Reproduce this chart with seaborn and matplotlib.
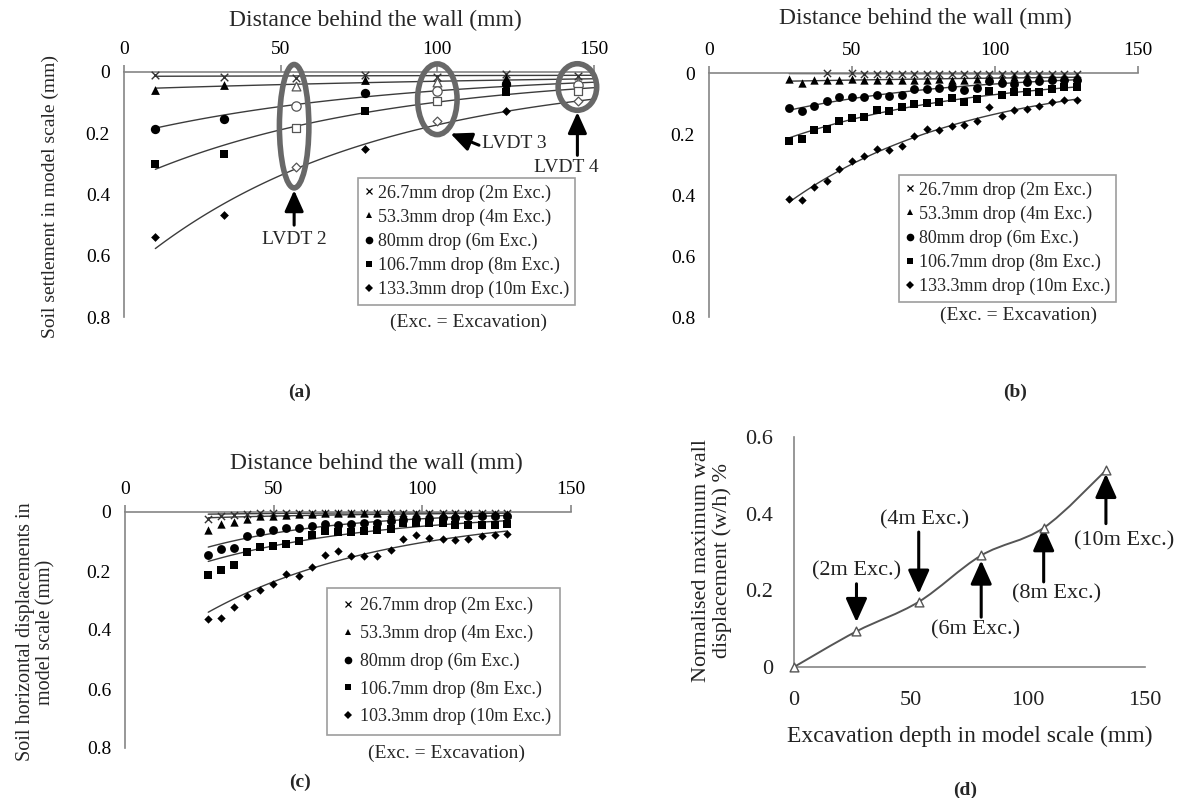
import numpy as np
import matplotlib
matplotlib.use("Agg")
import matplotlib.pyplot as plt
import seaborn as sns
from matplotlib.patches import Ellipse, PathPatch
from matplotlib.path import Path
from matplotlib.lines import Line2D

# ---------------- data ----------------
series_labels = ["26.7mm drop (2m Exc.)", "53.3mm drop (4m Exc.)", "80mm drop (6m Exc.)",
                 "106.7mm drop (8m Exc.)", "133.3mm drop (10m Exc.)"]
series_labels_c = ["26.7mm drop (2m Exc.)", "53.3mm drop (4m Exc.)", "80mm drop (6m Exc.)",
                   "106.7mm drop (8m Exc.)", "103.3mm drop (10m Exc.)"]
x_ticks = [0, 50, 100, 150]
x_tick_labels = ["0", "50", "100", "150"]
y_ticks = [0, 0.2, 0.4, 0.6, 0.8]
y_tick_labels = ["0", "0.2", "0.4", "0.6", "0.8"]

# (a) settlement, solid points and LVDT (hollow) points
a_x = [10, 32, 55, 77, 100, 122, 145]
a_lvdt = [False, False, True, False, True, False, True]
a_2m = [0.010, 0.016, 0.020, 0.010, 0.016, 0.006, 0.014]
a_4m = [0.060, 0.044, 0.047, 0.025, 0.033, 0.018, 0.033]
a_6m = [0.185, 0.153, 0.110, 0.070, 0.062, 0.038, 0.044]
a_8m = [0.300, 0.268, 0.182, 0.126, 0.095, 0.065, 0.062]
a_10m = [0.540, 0.468, 0.310, 0.250, 0.160, 0.128, 0.096]

# (b) settlement (PIV)
b_x = [28, 32.4, 36.8, 41.1, 45.5, 49.9, 54.3, 58.6, 63, 67.4, 71.8, 76.1,
       80.5, 84.9, 89.3, 93.6, 98, 102.4, 106.8, 111.1, 115.5, 119.9, 124.3, 128.6]
b_x_2m = [41.1, 49.9, 54.3, 58.6, 63, 67.4, 71.8, 76.1, 80.5, 84.9, 89.3, 93.6,
          98, 102.4, 106.8, 111.1, 115.5, 119.9, 124.3, 128.6]
b_2m = [0.001, 0.001, 0.003, 0.003, 0.003, 0.003, 0.002, 0.003, 0.002, 0.003, 0.003, 0.003,
        0.002, 0.003, 0.003, 0.003, 0.003, 0.003, 0.002, 0.002]
b_4m = [0.019, 0.033, 0.022, 0.024, 0.022, 0.019, 0.022, 0.024, 0.024, 0.022, 0.024, 0.024,
        0.020, 0.022, 0.022, 0.020, 0.016, 0.016, 0.014, 0.014, 0.014, 0.014, 0.013, 0.013]
b_6m = [0.115, 0.126, 0.107, 0.093, 0.079, 0.079, 0.079, 0.071, 0.076, 0.071, 0.051, 0.053,
        0.050, 0.047, 0.057, 0.049, 0.027, 0.033, 0.036, 0.031, 0.027, 0.022, 0.022, 0.024]
b_8m = [0.224, 0.216, 0.188, 0.182, 0.156, 0.148, 0.145, 0.120, 0.126, 0.112, 0.101, 0.098,
        0.095, 0.083, 0.096, 0.085, 0.060, 0.072, 0.062, 0.063, 0.063, 0.052, 0.046, 0.047]
b_10m = [0.414, 0.417, 0.373, 0.354, 0.314, 0.289, 0.273, 0.249, 0.251, 0.238, 0.207, 0.183,
         0.188, 0.174, 0.171, 0.157, 0.111, 0.141, 0.122, 0.117, 0.109, 0.096, 0.089, 0.087]

# (c) horizontal displacement
c_x = b_x
c_2m = [0.023, 0.012, 0.011, 0.007, 0.005, 0.004, 0.003, 0.003, 0.002, 0.002, 0.002, 0.002,
        0.002, 0.002, 0.002, 0.002, 0.002, 0.002, 0.002, 0.002, 0.002, 0.002, 0.002, 0.002]
c_4m = [0.060, 0.040, 0.034, 0.023, 0.015, 0.015, 0.009, 0.007, 0.007, 0.004, 0.004, 0.004,
        0.004, 0.004, 0.007, 0.007, 0.007, 0.007, 0.007, 0.007, 0.007, 0.007, 0.007, 0.007]
c_6m = [0.145, 0.125, 0.122, 0.080, 0.069, 0.062, 0.054, 0.054, 0.049, 0.041, 0.043, 0.040,
        0.037, 0.037, 0.032, 0.026, 0.024, 0.023, 0.019, 0.019, 0.015, 0.015, 0.013, 0.012]
c_8m = [0.215, 0.195, 0.179, 0.137, 0.120, 0.116, 0.107, 0.099, 0.077, 0.066, 0.068, 0.068,
        0.066, 0.060, 0.056, 0.037, 0.037, 0.037, 0.037, 0.045, 0.043, 0.043, 0.043, 0.040]
c_10m = [0.363, 0.359, 0.322, 0.286, 0.263, 0.243, 0.209, 0.216, 0.186, 0.145, 0.133, 0.148,
         0.148, 0.148, 0.128, 0.092, 0.077, 0.088, 0.092, 0.096, 0.092, 0.082, 0.077, 0.073]

# (d) normalised maximum wall displacement
d_x = [0, 26.7, 53.3, 80, 106.7, 133.3]
d_y = [0, 0.093, 0.170, 0.291, 0.363, 0.513]
d_labels = ["(2m Exc.)", "(4m Exc.)", "(6m Exc.)", "(8m Exc.)", "(10m Exc.)"]

# ---------------- style ----------------
sns.set_theme(style="white")
plt.rcParams["font.family"] = ["Liberation Serif", "DejaVu Serif"]
GREY = "#858585"
LINE = "#3c3c3c"
markers = ["x", "^", "o", "s", "D"]
msizes = [30, 40, 45, 38, 20]

fig = plt.figure(figsize=(12, 7.98), dpi=100)
W, H = 1200, 798


def add_ax(x0, x1, ytop, ybot):
    return fig.add_axes([x0 / W, 1 - ybot / H, (x1 - x0) / W, (ybot - ytop) / H])


axA = add_ax(124, 594, 72, 317)
axB = add_ax(709, 1138, 73, 317)
axC = add_ax(125, 571, 512, 748)
axD = add_ax(794, 1145, 437, 667)


def style_profile(ax):
    ax.set_xlim(0, 150)
    ax.set_ylim(0.8, 0)
    ax.xaxis.tick_top()
    ax.set_xticks(x_ticks)
    ax.set_xticklabels(x_tick_labels)
    ax.set_yticks(y_ticks)
    ax.set_yticklabels(y_tick_labels)
    for s in ["right", "bottom"]:
        ax.spines[s].set_visible(False)
    for s in ["top", "left"]:
        ax.spines[s].set_color(GREY)
        ax.spines[s].set_linewidth(1.2)
    ax.tick_params(axis="both", direction="out", length=5, width=1.2, color=GREY,
                   labelsize=14, pad=5, labelcolor="black")
    ax.set_xlabel("")
    ax.set_ylabel("")
    ax.grid(False)


def expfit_line(ax, x, y, x0, x1):
    x = np.asarray(x, float)
    y = np.asarray(y, float)
    b, a = np.polyfit(x, np.log(y), 1)
    xs = np.linspace(x0, x1, 120)
    sns.lineplot(x=xs, y=np.exp(a + b * xs), ax=ax, color=LINE, linewidth=1.0,
                 sort=False, estimator=None, legend=False)


def scatter(ax, x, y, i, hollow=False, scale=1.0):
    m = markers[i]
    if m == "x":
        sns.scatterplot(x=x, y=y, ax=ax, marker="x", s=msizes[i] * scale, color="#333333",
                        linewidth=1.0, clip_on=False, zorder=4, legend=False)
    elif hollow:
        sns.scatterplot(x=x, y=y, ax=ax, marker=m, s=msizes[i] * scale, facecolor="white",
                        edgecolor="#555555", linewidth=0.9, clip_on=False, zorder=4, legend=False)
    else:
        sns.scatterplot(x=x, y=y, ax=ax, marker=m, s=msizes[i] * scale, color="black",
                        linewidth=0, clip_on=False, zorder=4, legend=False)


def add_legend(ax, labels, x0, ytop, labelspacing=0.38, handlelength=0.5,
               handletextpad=0.25, borderpad=0.35):
    handles = [Line2D([], [], marker=m, ls="none", color="black", markersize=ms,
                      markeredgewidth=(0.9 if m == "x" else 0))
               for m, ms in zip(markers, [5, 5, 5.5, 5, 3.8])]
    leg = ax.legend(handles, labels, loc="upper left", bbox_to_anchor=(x0 / W, 1 - ytop / H),
                    bbox_transform=fig.transFigure, frameon=True, fancybox=False,
                    edgecolor=GREY, fontsize=13, handlelength=handlelength,
                    handletextpad=handletextpad, labelspacing=labelspacing,
                    borderpad=borderpad, borderaxespad=0)
    leg.get_frame().set_linewidth(1.2)
    leg.set_zorder(10)
    return leg


arrow_style = dict(arrowstyle="-|>,head_length=0.8,head_width=0.36", lw=2.2,
                   color="black", mutation_scale=16, shrinkA=0, shrinkB=0)

# ---------------- panel (a) ----------------
style_profile(axA)
a_series = [a_2m, a_4m, a_6m, a_8m, a_10m]
for i, ys in enumerate(a_series):
    expfit_line(axA, a_x, ys, 10, 150)
for i, ys in enumerate(a_series):
    xs_s = [x for x, h in zip(a_x, a_lvdt) if not h]
    ys_s = [y for y, h in zip(ys, a_lvdt) if not h]
    xs_h = [x for x, h in zip(a_x, a_lvdt) if h]
    ys_h = [y for y, h in zip(ys, a_lvdt) if h]
    scatter(axA, xs_s, ys_s, i)
    scatter(axA, xs_h, ys_h, i, hollow=True)

for (cx, cy, w, h) in [(54.3, 0.177, 9.4, 0.403), (100, 0.089, 12.6, 0.231), (144.7, 0.049, 12.3, 0.152)]:
    axA.add_patch(Ellipse((cx, cy), w, h, fill=False, edgecolor="#686868", lw=4,
                          clip_on=False, zorder=6))
axA.annotate("", xy=(54.3, 0.386), xytext=(54.3, 0.50), arrowprops=arrow_style,
             annotation_clip=False)
axA.text(54.3, 0.547, "LVDT 2", ha="center", va="center", fontsize=14)
axA.annotate("", xy=(104.2, 0.201), xytext=(113.3, 0.239), arrowprops=arrow_style,
             annotation_clip=False)
axA.text(114.2, 0.234, "LVDT 3", ha="left", va="center", fontsize=14)
axA.annotate("", xy=(144.7, 0.131), xytext=(144.7, 0.272), arrowprops=arrow_style,
             annotation_clip=False)
axA.text(141.1, 0.312, "LVDT 4", ha="center", va="center", fontsize=14)
add_legend(axA, series_labels, 358, 178)
fig.text(468 / W, 1 - 322 / H, "(Exc. = Excavation)", ha="center", va="center", fontsize=14)

# ---------------- panel (b) ----------------
style_profile(axB)
b_series = [b_2m, b_4m, b_6m, b_8m, b_10m]
b_xs = [b_x_2m, b_x, b_x, b_x, b_x]
for i, ys in enumerate(b_series):
    expfit_line(axB, b_xs[i], ys, 28, 128.6)
for i, ys in enumerate(b_series):
    scatter(axB, b_xs[i], ys, i, scale=0.9)
add_legend(axB, series_labels, 899, 175)
fig.text(1018 / W, 1 - 315 / H, "(Exc. = Excavation)", ha="center", va="center", fontsize=14)

# ---------------- panel (c) ----------------
style_profile(axC)
c_series = [c_2m, c_4m, c_6m, c_8m, c_10m]
for i, ys in enumerate(c_series):
    expfit_line(axC, c_x, ys, 28, 128.6)
for i, ys in enumerate(c_series):
    scatter(axC, c_x, ys, i, scale=0.9)
add_legend(axC, series_labels_c, 327, 588, labelspacing=0.58, handlelength=1.3,
           handletextpad=0.0, borderpad=0.5)
fig.text(447 / W, 1 - 753 / H, "(Exc. = Excavation)", ha="center", va="center", fontsize=14)

# ---------------- panel (d) ----------------
axD.set_xlim(0, 150)
axD.set_ylim(0, 0.6)
axD.set_xticks(x_ticks)
axD.set_xticklabels(x_tick_labels)
axD.set_yticks([0, 0.2, 0.4, 0.6])
axD.set_yticklabels(["0", "0.2", "0.4", "0.6"])
for s in ["right", "top"]:
    axD.spines[s].set_visible(False)
for s in ["bottom", "left"]:
    axD.spines[s].set_color(GREY)
    axD.spines[s].set_linewidth(1.2)
axD.tick_params(axis="both", direction="out", length=5, width=1.2, color=GREY,
                labelsize=16, labelcolor="#222222")
axD.tick_params(axis="y", pad=10)
axD.tick_params(axis="x", pad=12)
axD.grid(False)

pts = np.column_stack([d_x, d_y])
n = len(pts)
verts = [pts[0]]
codes = [Path.MOVETO]
for i in range(n - 1):
    p0 = pts[max(i - 1, 0)]
    p1 = pts[i]
    p2 = pts[i + 1]
    p3 = pts[min(i + 2, n - 1)]
    verts += [p1 + (p2 - p0) / 6.0, p2 - (p3 - p1) / 6.0, p2]
    codes += [Path.CURVE4] * 3
axD.add_patch(PathPatch(Path(verts, codes), fill=False, edgecolor="#555555", lw=1.4, zorder=3))
sns.scatterplot(x=d_x, y=d_y, ax=axD, marker="^", s=40, facecolor="white",
                edgecolor="#555555", linewidth=1.0, clip_on=False, zorder=4, legend=False)

d_arrows = [((26.7, 0.117), (26.7, 0.217)), ((53.3, 0.191), (53.3, 0.352)),
            ((80, 0.278), (80, 0.13)), ((106.7, 0.365), (106.7, 0.222)),
            ((133.3, 0.504), (133.3, 0.374))]
d_text_pos = [(26.9, 0.252), (56, 0.383), (77.4, 0.096), (112.4, 0.191), (141, 0.329)]
d_arrow_style = dict(arrow_style, mutation_scale=18)
for (tip, tail), (tx, ty), lab in zip(d_arrows, d_text_pos, d_labels):
    axD.annotate("", xy=tip, xytext=tail, arrowprops=d_arrow_style, annotation_clip=False)
    axD.text(tx, ty, lab, ha="center", va="center", fontsize=16, color="#222222")

axD.set_xlabel("")
axD.set_ylabel("")

# ---------------- titles / labels ----------------
title_fs = 17
fig.text(375 / W, 1 - 20 / H, "Distance behind the wall (mm)", ha="center", va="center", fontsize=title_fs)
fig.text(925 / W, 1 - 18 / H, "Distance behind the wall (mm)", ha="center", va="center", fontsize=title_fs)
fig.text(376 / W, 1 - 463 / H, "Distance behind the wall (mm)", ha="center", va="center", fontsize=title_fs)
fig.text(50 / W, 1 - 197 / H, "Soil settlement in model scale (mm)", ha="center", va="center",
         rotation=90, fontsize=14)
fig.text(36 / W, 1 - 632 / H, "Soil horizontal displacements in\nmodel scale (mm)", ha="center",
         va="center", rotation=90, fontsize=14.5, linespacing=1.1)
fig.text(712 / W, 1 - 560 / H, "Normalised maximum wall\ndisplacement (w/h) %", ha="center",
         va="center", rotation=90, fontsize=16, linespacing=1.05, color="#222222")
fig.text(970 / W, 1 - 736 / H, "Excavation depth in model scale (mm)", ha="center", va="center",
         fontsize=17, color="#222222")

for lab, (px, py) in zip(["(a)", "(b)", "(c)", "(d)"], [(300, 392), (1015, 392), (300, 782), (965, 790)]):
    fig.text(px / W, 1 - py / H, lab, ha="center", va="center", fontsize=14, fontweight="bold")

fig.savefig("out.png", dpi=100)
